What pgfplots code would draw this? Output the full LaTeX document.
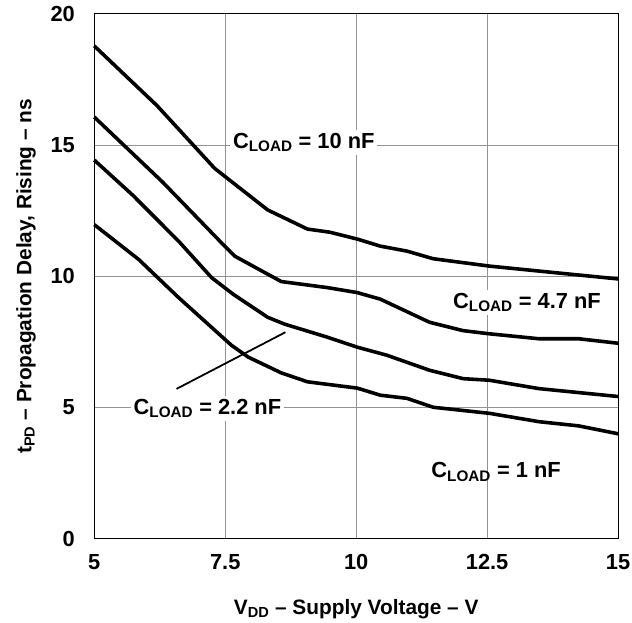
\documentclass[border=0pt]{standalone}
\usepackage{fontspec}
\setmainfont{Liberation Sans}
\usepackage{pgfplots}
\pgfplotsset{compat=1.18}
\begin{document}
\begin{tikzpicture}
\begin{axis}[
  scale only axis,
  width=528pt, height=529pt,
  xmin=5, xmax=15, ymin=0, ymax=20,
  xtick={5,7.5,10,12.5,15},
  xticklabels={5,7.5,10,12.5,15},
  ytick={0,5,10,15,20},
  yticklabels={0,5,10,15,20},
  major tick length=0pt,
  grid=major,
  major grid style={gray!85, line width=0.9pt},
  axis line style={black, line width=0.9pt},
  tick label style={font=\fontsize{22}{26}\selectfont\bfseries},
  xticklabel style={yshift=-12pt},
  yticklabel style={xshift=-16pt},
  xlabel={V\textsubscript{DD} -- Supply Voltage -- V},
  ylabel={t\textsubscript{PD} -- Propagation Delay, Rising -- ns},
  label style={font=\fontsize{21}{25}\selectfont\bfseries},
  xlabel style={yshift=-23pt},
  ylabel style={yshift=8pt},
  clip=false,
]
\addplot[black, line width=3.6pt, line join=round] coordinates {
(5,18.78) (6.2,16.5) (7.3,14.11) (8.31,12.53) (9.07,11.80) (9.5,11.68) (10.02,11.42) (10.46,11.15) (10.97,10.96) (11.47,10.67) (12.54,10.39) (13.49,10.20) (15,9.90)};
\addplot[black, line width=3.6pt, line join=round] coordinates {
(5,16.07) (6.3,13.6) (7.49,11.15) (7.68,10.77) (8.57,9.80) (9.45,9.57) (10.02,9.38) (10.46,9.13) (11.4,8.25) (12.04,7.93) (12.54,7.81) (13.49,7.62) (14.25,7.62) (15,7.45)};
\addplot[black, line width=3.6pt, line join=round] coordinates {
(5,14.43) (5.73,13.1) (6.61,11.34) (7.24,9.95) (7.65,9.32) (8.31,8.44) (8.63,8.18) (9.45,7.68) (10.02,7.30) (10.59,6.99) (11.4,6.42) (12.04,6.10) (12.54,6.04) (13.49,5.72) (15,5.42)};
\addplot[black, line width=3.6pt, line join=round] coordinates {
(5,11.97) (5.85,10.64) (6.61,9.19) (7.62,7.37) (7.94,6.92) (8.57,6.32) (9.07,5.98) (10.02,5.74) (10.46,5.47) (10.97,5.35) (11.47,5.01) (12.54,4.78) (13.49,4.46) (14.25,4.30) (15,4.00)};
\draw[black, line width=1.8pt] (axis cs:6.57,5.71) -- (axis cs:8.65,7.87);
\node[fill=white, inner sep=3pt, font=\fontsize{22}{26}\selectfont\bfseries] at (axis cs:9.0,15.1) {C\textsubscript{LOAD} = 10 nF};
\node[fill=white, inner sep=3pt, font=\fontsize{22}{26}\selectfont\bfseries] at (axis cs:13.26,9.0) {C\textsubscript{LOAD} = 4.7 nF};
\node[fill=white, inner sep=3pt, font=\fontsize{22}{26}\selectfont\bfseries] at (axis cs:7.16,4.96) {C\textsubscript{LOAD} = 2.2 nF};
\node[inner sep=1pt, font=\fontsize{22}{26}\selectfont\bfseries] at (axis cs:12.67,2.55) {C\textsubscript{LOAD} = 1 nF};
\end{axis}
\pgfresetboundingbox
\path (-95pt,-84pt) rectangle (542pt,543pt);
\end{tikzpicture}
\end{document}
